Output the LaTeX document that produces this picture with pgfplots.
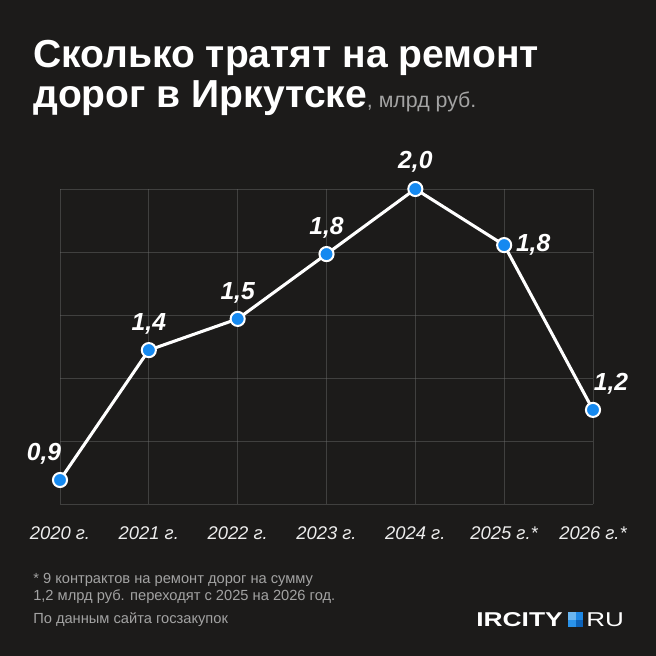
\documentclass[border=0pt]{standalone}
\usepackage{fontspec}
\setmainfont{Liberation Sans}
\usepackage{graphicx}
\usepackage{pgfplots}
\usepackage{pgfplotstable}
\pgfplotsset{compat=1.18}

\definecolor{bg}{HTML}{1C1B1A}
\definecolor{mk}{HTML}{1589F0}
\definecolor{gridc}{HTML}{6E6E6E}
\definecolor{tickc}{HTML}{EDEDED}
\definecolor{foot}{HTML}{A3A3A3}
\definecolor{lb1}{HTML}{6BB6F0}
\definecolor{lb2}{HTML}{1E88E5}
\definecolor{lb3}{HTML}{2A93EA}
\definecolor{lb4}{HTML}{0D62B8}

\pgfplotstableread{
x y lab dx dy
0 0.900 {0,9} -16 26
1 1.391 {1,4} 0 26
2 1.509 {1,5} 0 26
3 1.754 {1,8} 0 26
4 2.000 {2,0} 0 27
5 1.788 {1,8} 29 0
6 1.165 {1,2} 18 26
}\data

\begin{document}
\begin{tikzpicture}[x=0.75pt,y=0.75pt]
\fill[bg] (0,0) rectangle (656,656);
\begin{axis}[
  at={(45pt,114pt)}, anchor=south west,
  width=399.75pt, height=236.25pt, scale only axis,
  xmin=0, xmax=6, ymin=0.8093, ymax=2.0,
  axis line style={draw=none},
  tick style={draw=none},
  major tick length=0pt,
  xtick={0,...,6},
  xticklabels={2020 г.,2021 г.,2022 г.,2023 г.,2024 г.,2025 г.*,2026 г.*},
  ytick={0.8093,1.0475,1.2857,1.5238,1.7619,2.0},
  yticklabels={},
  grid=major,
  grid style={gridc, line width=0.6pt, opacity=0.45},
  xticklabel style={font=\itshape\fontsize{13.8}{16}\selectfont, text=tickc, anchor=base, yshift=-27pt},
  clip=false,
]
\addplot[white, line width=2.3pt, mark=*, mark size=5.3pt,
  mark options={fill=mk, draw=white, line width=1.5pt},
  nodes near coords, point meta=explicit symbolic,
  visualization depends on={\thisrow{dx} \as \dx},
  visualization depends on={\thisrow{dy} \as \dy},
  nodes near coords style={anchor=center, xshift={\dx*0.75pt}, yshift={\dy*0.75pt},
    font=\bfseries\itshape\fontsize{18.5}{20}\selectfont, text=white, inner sep=0pt}
] table[x=x, y=y, meta=lab] {\data};
\end{axis}

\node[anchor=base west, inner sep=0, text=white, font=\bfseries\fontsize{29.3}{35}\selectfont] at (33,588) {Сколько тратят на ремонт};
\node[anchor=base west, inner sep=0, text=white, font=\bfseries\fontsize{29.3}{35}\selectfont] at (33,548) {дорог в Иркутске{\mdseries\fontsize{16}{18}\selectfont\color{foot}, млрд руб.}};

\node[anchor=base west, inner sep=0, text=foot, font=\fontsize{11}{13}\selectfont] at (33,72) {* 9 контрактов на ремонт дорог на сумму};
\node[anchor=base west, inner sep=0, text=foot, font=\fontsize{11}{13}\selectfont] at (33,55) {1,2 млрд руб. переходят с 2025 на 2026 год.};
\node[anchor=base west, inner sep=0, text=foot, font=\fontsize{11}{13}\selectfont] at (33,32) {По данным сайта госзакупок};

\node[anchor=base west, inner sep=0, text=white, font=\bfseries\fontsize{15}{15}\selectfont] at (476,29) {\scalebox{1.32}[1]{IRCITY}};
\fill[lb1] (568,36) rectangle (575.5,43.5);
\fill[lb2] (575.5,36) rectangle (583,43.5);
\fill[lb3] (568,28.5) rectangle (575.5,36);
\fill[lb4] (575.5,28.5) rectangle (583,36);
\node[anchor=base west, inner sep=0, text=white, font=\fontsize{15}{15}\selectfont] at (586,29) {\scalebox{1.3}[1]{RU}};
\end{tikzpicture}
\end{document}
